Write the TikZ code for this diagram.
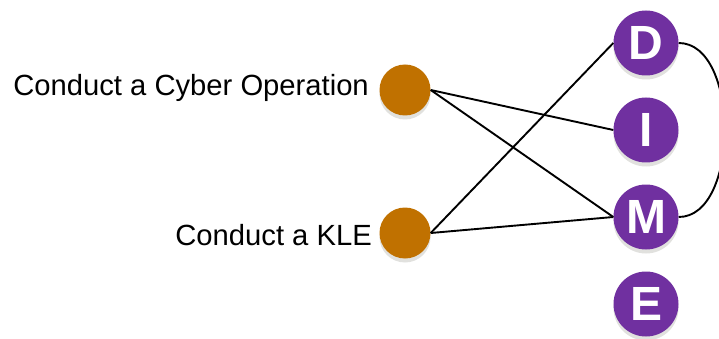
\documentclass[tikz,border=0pt]{standalone}
\usepackage{fontspec}
\setmainfont{Liberation Sans}
\begin{document}
\begin{tikzpicture}[x=1pt,y=-1pt,
  lbl/.style={font=\fontsize{29.2}{34}\selectfont, inner sep=0pt},
  act/.style={circle, fill=actorange, minimum size=51pt, inner sep=0pt,
    preaction={fill=shadowgrey, transform canvas={yshift=-4pt}}},
  dime/.style={circle, fill=dimepurple, minimum size=65pt, inner sep=0pt, text=white,
    font=\fontsize{48}{52}\selectfont\bfseries,
    preaction={fill=shadowgrey, transform canvas={yshift=-4pt}}},
  link/.style={draw=black, line width=1.9pt}]
\definecolor{actorange}{RGB}{192,113,0}
\definecolor{dimepurple}{RGB}{112,48,160}
\definecolor{shadowgrey}{RGB}{225,225,222}
\useasboundingbox (0,0) rectangle (719,339);
\node[lbl, anchor=base east] (t1) at (369,96) {Conduct a Cyber Operation};
\node[lbl, anchor=base east] (t2) at (372,245) {Conduct a KLE};
\node[act] (c1) at (405,90) {};
\node[act] (c2) at (405,233) {};
\node[dime] (D) at (646,43) {D};
\node[dime] (I) at (646,130) {I};
\node[dime] (M) at (646,217) {M};
\node[dime] (E) at (646,304) {E};
\draw[link] (c1.east) -- (I.west);
\draw[link] (c1.east) -- (M.west);
\draw[link] (c2.east) -- (D.west);
\draw[link] (c2.east) -- (M.west);
\draw[link] (D.east) .. controls (740,43) and (740,217) .. (M.east);
\end{tikzpicture}
\end{document}
